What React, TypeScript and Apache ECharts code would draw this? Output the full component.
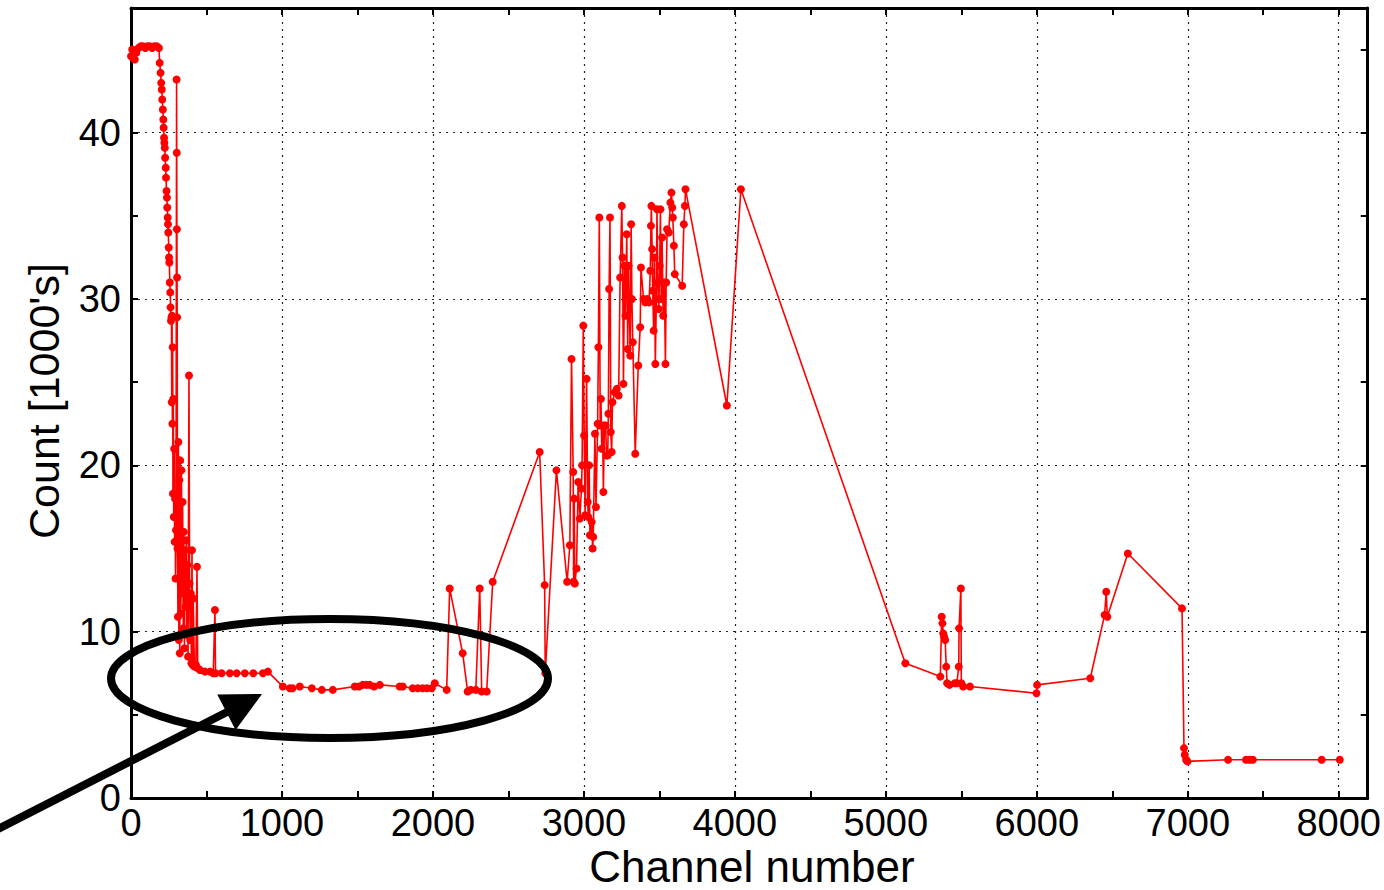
import React, { useEffect, useRef } from "react";
import * as echarts from "echarts";

// Spectrum samples: channel number and count (in thousands), split by region.
const headChannels = [
  0, 8, 15, 25, 35, 50, 65, 80, 95, 110, 125, 140, 155, 170, 185, 190, 196, 200, 204, 207,
  211, 214, 216, 219, 221, 224, 226, 230, 232, 235, 238, 240, 243, 245, 247, 250, 252, 254,
  257, 260, 262, 265, 268, 270, 272, 274, 276, 278, 280, 283, 286, 289, 292, 295, 298, 302,
  303, 304, 305, 306, 308, 311, 314, 317, 320, 323, 326, 330, 334, 338, 342, 346, 350, 354,
  358, 362, 366, 370, 374, 378, 384, 388, 392, 396, 400, 404, 408, 412, 420, 430, 437, 442, 457,
];
const headCounts = [
  44.6, 45.0, 44.5, 44.4, 44.8, 45.1, 45.2, 45.2, 45.1, 45.2, 45.2, 45.1, 45.2, 45.2, 45.1,
  44.2, 43.6, 43.0, 42.6, 42.0, 41.4, 40.8, 40.3, 39.7, 39.4, 39.1, 38.5, 37.9, 37.3, 36.5,
  36.1, 35.5, 34.9, 34.5, 34.0, 33.1, 32.5, 32.2, 31.0, 30.4, 29.5, 28.7, 28.9, 23.8, 29.0,
  22.5, 27.1, 18.3, 24.0, 16.9, 21.0, 15.4, 18.0, 13.2, 16.1, 43.2, 38.8, 34.2, 31.3, 28.9,
  15.0, 10.9, 21.4, 9.5, 19.1, 8.7, 20.3, 11.1, 19.7, 12.3, 17.8, 10.2, 16.0, 9.0, 14.9, 11.5,
  15.5, 9.8, 14.0, 8.5, 25.4, 12.9, 9.5, 12.3, 8.1, 14.9, 8.0, 12.0, 7.9, 8.0, 13.9, 7.8, 7.7,
];

const plateauChannels = [
  490, 523, 545, 556, 560, 600, 655, 700, 754, 810, 874, 907, 1006, 1052, 1070, 1118, 1198,
  1264, 1337, 1482, 1510, 1535, 1560, 1582, 1610, 1648, 1780, 1800, 1866, 1900, 1932, 1960,
  1992, 2012, 2091, 2111, 2197, 2230, 2250, 2284, 2310, 2323, 2356, 2396,
];
const plateauCounts = [
  7.6, 7.6, 7.5, 11.3, 7.5, 7.5, 7.5, 7.5, 7.5, 7.5, 7.5, 7.6, 6.7, 6.6, 6.6, 6.7, 6.6, 6.5,
  6.5, 6.7, 6.7, 6.8, 6.8, 6.8, 6.7, 6.8, 6.7, 6.7, 6.6, 6.6, 6.6, 6.6, 6.6, 6.9, 6.5, 12.6,
  8.7, 6.4, 6.5, 6.5, 12.6, 6.4, 6.4, 13.0,
];

const peakChannels = [
  2707, 2740, 2744, 2818, 2889, 2907, 2918, 2929, 2932, 2936, 2940, 2951, 2962, 2973, 2984,
  2988, 2996, 3002, 3008, 3018, 3025, 3029, 3035, 3040, 3051, 3058, 3062, 3073, 3080, 3091,
  3096, 3102, 3108, 3113, 3118, 3124, 3129, 3136, 3144, 3150, 3158, 3162, 3167, 3173, 3178,
  3184, 3189, 3205, 3218, 3230, 3240, 3251, 3256, 3262, 3269, 3275, 3284, 3290, 3296, 3307,
  3313, 3318, 3324, 3340, 3360, 3373, 3378, 3395, 3407, 3420, 3432, 3440, 3444, 3447, 3452,
  3456, 3462, 3467, 3473, 3480, 3484, 3490, 3496, 3502, 3507, 3512, 3518, 3525, 3533, 3540,
  3545, 3551, 3562, 3573, 3580, 3585, 3589, 3596, 3602, 3651, 3662, 3669, 3673, 3947, 4040,
];
const peakCounts = [
  20.8, 12.8, 7.5, 19.7, 13.0, 15.2, 26.4, 19.6, 13.0, 18.0, 12.9, 13.8, 19.0, 16.8, 18.6,
  20.0, 28.4, 21.8, 17.0, 25.2, 17.8, 16.9, 20.0, 15.8, 16.6, 15.0, 15.7, 21.9, 17.5, 22.5,
  27.1, 34.9, 22.4, 24.0, 21.0, 22.4, 18.4, 22.4, 22.4, 20.6, 20.6, 23.1, 30.6, 34.9, 22.0,
  20.8, 23.8, 24.4, 24.6, 24.2, 31.3, 35.6, 32.5, 24.9, 32.0, 29.0, 33.9, 27.0, 32.0, 26.6,
  34.5, 30.0, 27.4, 20.7, 26.0, 28.3, 31.9, 30.0, 29.8, 30.0, 29.8, 31.7, 34.4, 35.6, 33.0,
  30.5, 28.1, 32.5, 26.1, 30.0, 35.4, 31.0, 29.4, 32.0, 35.4, 30.0, 33.7, 29.0, 31.0, 26.1,
  31.0, 34.2, 34.0, 35.8, 36.4, 35.5, 34.9, 33.2, 31.5, 30.8, 34.5, 35.6, 36.6, 23.6, 36.6,
];

const tailChannels = [
  5129, 5361, 5370, 5375, 5380, 5386, 5393, 5400, 5406, 5422, 5456, 5470, 5483, 5485, 5497,
  5500, 5512, 5557, 5998, 6002, 6354, 6449, 6460, 6467, 6603, 6962, 6975, 6980, 6989, 6998,
  7267, 7386, 7410, 7431, 7887, 8007,
];
const tailCounts = [
  8.1, 7.3, 10.9, 10.5, 9.9, 9.7, 9.5, 7.9, 6.9, 6.8, 6.9, 6.9, 7.9, 10.2, 12.6, 6.9, 6.7,
  6.7, 6.3, 6.8, 7.2, 11.0, 12.4, 10.9, 14.7, 11.4, 3.0, 2.6, 2.3, 2.2, 2.3, 2.3, 2.3, 2.3,
  2.3, 2.3,
];

const xTicks = [0, 1000, 2000, 3000, 4000, 5000, 6000, 7000, 8000];
const yTicks = [0, 10, 20, 30, 40];

const X_MAX = 8192;
const Y_MAX = 47.5;

const FONT = "Liberation Sans, Arial, Helvetica, sans-serif";

function pairs(xs: number[], ys: number[]) {
  return xs.map((x, i) => [x, ys[i]]);
}

const seriesData = [
  ...pairs(headChannels, headCounts),
  ...pairs(plateauChannels, plateauCounts),
  ...pairs(peakChannels, peakCounts),
  ...pairs(tailChannels, tailCounts),
];

const gridLine = {
  show: true,
  lineStyle: { color: "#222", width: 1.2, type: [2, 5] as number[] },
};

const frameLine = { show: true, onZero: false, lineStyle: { color: "#000", width: 3 } };
const innerTick = { show: true, inside: true, length: 7, lineStyle: { color: "#000", width: 2 } };

export default function App() {
  const ref = useRef<HTMLDivElement>(null);

  useEffect(() => {
    if (!ref.current) return;
    const chart = echarts.init(ref.current, null, { renderer: "svg" });

    // Arrow geometry: shaft from lower-left edge up to the head's base.
    const tip = [262, 694];
    const dir = [0.889, -0.458];
    const headLen = 40;
    const headHalf = 20;
    const base = [tip[0] - dir[0] * headLen, tip[1] - dir[1] * headLen];
    const perp = [-dir[1], dir[0]];

    chart.setOption({
      animation: false,
      backgroundColor: "#fff",
      grid: { left: 131, top: 8, width: 1241, height: 790, containLabel: false },
      xAxis: [
        {
          type: "value",
          position: "bottom",
          min: 0,
          max: X_MAX,
          interval: 1000,
          axisLine: frameLine,
          axisTick: { show: false },
          splitLine: gridLine,
          axisLabel: {
            color: "#000",
            fontSize: 38,
            fontFamily: FONT,
            margin: 6,
            formatter: (v: number) => (xTicks.includes(v) ? String(v) : ""),
          },
        },
        {
          type: "value",
          position: "bottom",
          min: 0,
          max: X_MAX,
          interval: 500,
          axisLine: { show: false },
          axisTick: innerTick,
          splitLine: { show: false },
          axisLabel: { show: false },
        },
        {
          type: "value",
          position: "top",
          min: 0,
          max: X_MAX,
          interval: 500,
          axisLine: frameLine,
          axisTick: innerTick,
          splitLine: { show: false },
          axisLabel: { show: false },
        },
      ],
      yAxis: [
        {
          type: "value",
          position: "left",
          min: 0,
          max: Y_MAX,
          interval: 10,
          axisLine: frameLine,
          axisTick: { show: false },
          splitLine: gridLine,
          axisLabel: {
            color: "#000",
            fontSize: 38,
            fontFamily: FONT,
            margin: 10,
            formatter: (v: number) => (yTicks.includes(v) ? String(v) : ""),
          },
        },
        {
          type: "value",
          position: "left",
          min: 0,
          max: Y_MAX,
          interval: 5,
          axisLine: { show: false },
          axisTick: innerTick,
          splitLine: { show: false },
          axisLabel: { show: false },
        },
        {
          type: "value",
          position: "right",
          min: 0,
          max: Y_MAX,
          interval: 5,
          axisLine: frameLine,
          axisTick: innerTick,
          splitLine: { show: false },
          axisLabel: { show: false },
        },
      ],
      series: [
        {
          type: "line",
          xAxisIndex: 0,
          yAxisIndex: 0,
          data: seriesData,
          showSymbol: true,
          showAllSymbol: true,
          symbol: "circle",
          symbolSize: 8,
          itemStyle: { color: "#ff0000" },
          lineStyle: { color: "#ff0000", width: 1.6 },
          emphasis: { disabled: true },
          z: 5,
        },
      ],
      graphic: [
        {
          type: "text",
          x: 752,
          y: 888,
          style: {
            text: "Channel number",
            font: `44px ${FONT}`,
            fill: "#000",
            align: "center",
            verticalAlign: "bottom",
          },
        },
        {
          type: "text",
          x: 44,
          y: 401,
          rotation: Math.PI / 2,
          style: {
            text: "Count [1000's]",
            font: `43px ${FONT}`,
            fill: "#000",
            align: "center",
            verticalAlign: "middle",
          },
        },
        {
          type: "ellipse",
          z: 100,
          shape: { cx: 329.5, cy: 678.5, rx: 218.5, ry: 59.5 },
          style: { fill: "none", stroke: "#000", lineWidth: 8 },
        },
        {
          type: "line",
          z: 100,
          shape: { x1: -10, y1: 833, x2: base[0] + dir[0] * 4, y2: base[1] + dir[1] * 4 },
          style: { stroke: "#000", lineWidth: 8 },
        },
        {
          type: "polygon",
          z: 100,
          shape: {
            points: [
              tip,
              [base[0] + perp[0] * headHalf, base[1] + perp[1] * headHalf],
              [base[0] - perp[0] * headHalf, base[1] - perp[1] * headHalf],
            ],
          },
          style: { fill: "#000" },
        },
      ],
    });

    return () => chart.dispose();
  }, []);

  return (
    <div
      ref={ref}
      style={{ position: "fixed", left: 0, top: 0, width: 1384, height: 890, background: "#fff" }}
    />
  );
}
